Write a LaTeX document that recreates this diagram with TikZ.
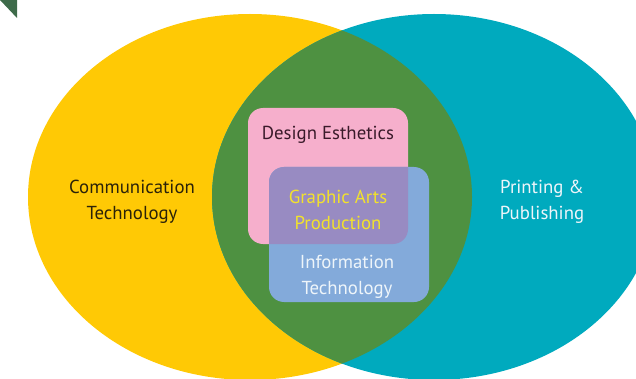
\documentclass[tikz,border=0pt]{standalone}
\usepackage{fontspec}
\setmainfont{PT Sans}
\begin{document}
\begin{tikzpicture}[x=1pt,y=-1pt]
\definecolor{cyellow}{HTML}{FFC905}
\definecolor{cteal}{HTML}{00AABE}
\definecolor{cgreen}{HTML}{4E9141}
\definecolor{cdark}{HTML}{3E6B4A}
\definecolor{cpink}{HTML}{F6AFCC}
\definecolor{cblue}{HTML}{83AADA}
\definecolor{cpurple}{HTML}{988BC2}
\definecolor{tdark}{HTML}{2B2209}
\definecolor{tplum}{HTML}{3A1A2A}
\definecolor{tgold}{HTML}{F2E22C}
\definecolor{tlight}{HTML}{EEF5FA}
\tikzset{
  label/.style={align=center, inner sep=0pt, font=\fontsize{18.8}{26}\selectfont},
  box/.style={rounded corners=15pt}
}
\useasboundingbox (0,0) rectangle (636,379);
\clip (0,0) rectangle (636,379);
% the two large circles and their overlap
\fill[cyellow] (250,197) ellipse [x radius=222, y radius=183];
\fill[cteal] (434,197) ellipse [x radius=222, y radius=183];
\begin{scope}
  \clip (250,197) ellipse [x radius=222, y radius=183];
  \fill[cgreen] (434,197) ellipse [x radius=222, y radius=183];
\end{scope}
% corner mark
\fill[cdark] (0,0) -- (17,0) -- (17,18) -- cycle;
% inner boxes and their overlap
\fill[cpink, box] (248,108) rectangle (408,244);
\fill[cblue, box] (269,167) rectangle (429,302);
\begin{scope}
  \clip[box] (248,108) rectangle (408,244);
  \fill[cpurple, box] (269,167) rectangle (429,302);
\end{scope}
% labels
\node[label, text=tdark] (comm) at (132,202) {Communication\\Technology};
\node[label, text=tlight] (print) at (542,202) {Printing \&\\Publishing};
\node[label, text=tplum] (design) at (328,135) {Design Esthetics};
\node[label, text=tgold] (graphic) at (338,210) {Graphic Arts\\Production};
\node[label, text=tlight] (info) at (347,277) {Information\\Technology};
\end{tikzpicture}
\end{document}
